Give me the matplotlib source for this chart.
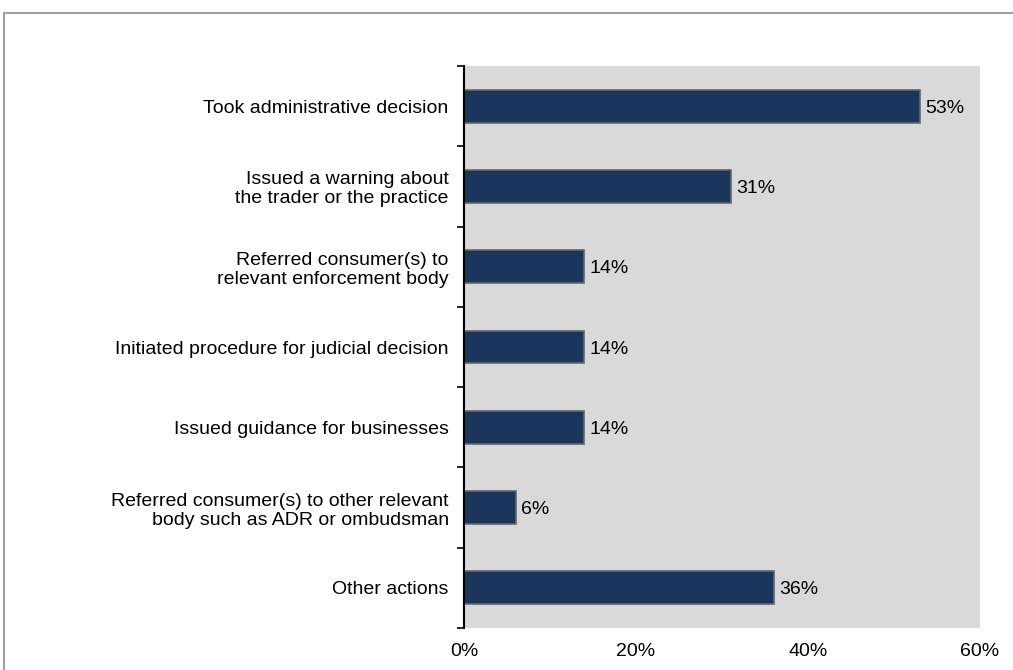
import matplotlib.pyplot as plt
import numpy as np
from matplotlib.lines import Line2D

plt.rcParams['font.family'] = ['Liberation Sans', 'DejaVu Sans']

labels = ['Took administrative decision',
          'Issued a warning about\nthe trader or the practice',
          'Referred consumer(s) to\nrelevant enforcement body',
          'Initiated procedure for judicial decision',
          'Issued guidance for businesses',
          'Referred consumer(s) to other relevant\nbody such as ADR or ombudsman',
          'Other actions']
values = [53, 31, 14, 14, 14, 6, 36]
xticks = [0, 20, 40, 60]

fig = plt.figure(figsize=(10.13, 6.7), dpi=100)
ax = fig.add_axes([464/1013, 1-628/670, (980-464)/1013, (628-66)/670])
ax.set_facecolor('#d9d9d9')

y = np.arange(len(labels))
ax.barh(y, values, height=0.41, color='#1b365d', edgecolor='#666666', linewidth=1.2, zorder=2)
for yi, v in zip(y, values):
    ax.annotate(f'{v}%', (v, yi), xytext=(4, -1.5), textcoords='offset points',
                va='center', ha='left', fontsize=14, color='#000000')

ax.set_xlim(0, 60)
ax.set_ylim(len(labels) - 0.5, -0.5)
ax.set_xticks(xticks)
ax.set_xticklabels([f'{t}%' for t in xticks], fontsize=14)
ax.set_yticks(y)
ax.set_yticklabels(labels, fontsize=14, ma='right', linespacing=1.15)
ax.set_yticks(np.arange(len(labels) + 1) - 0.5, minor=True)
ax.tick_params(axis='y', which='major', length=0, pad=11)
ax.tick_params(axis='y', which='minor', length=5, width=1.2, direction='out', color='black')
ax.tick_params(axis='x', length=0, pad=11)
for s in ['top', 'right', 'bottom']:
    ax.spines[s].set_visible(False)
ax.spines['left'].set_linewidth(1.5)
ax.spines['left'].set_color('black')

# outer frame (cut by image edges)
fig.add_artist(Line2D([4/1013, 1.0], [1-13/670, 1-13/670], color='#a0a0a0', linewidth=1.5, transform=fig.transFigure))
fig.add_artist(Line2D([4/1013, 4/1013], [0, 1-13/670], color='#a0a0a0', linewidth=1.5, transform=fig.transFigure))

fig.savefig('out.png', dpi=100)
plt.close(fig)
